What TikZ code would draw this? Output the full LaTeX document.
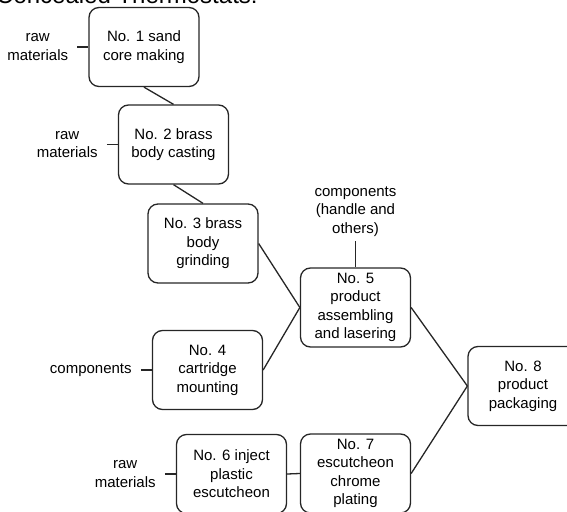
\documentclass[tikz,border=0pt]{standalone}
\usepackage{fontspec}
\setmainfont{Liberation Sans}
\usepackage{tikz}
\usetikzlibrary{positioning}

\tikzset{
	stage/.style={draw=black!85, line width=1.3pt, rounded corners=10pt, align=center,
		minimum width=110pt, minimum height=79pt, inner sep=2pt,
		font=\fontsize{15}{18.5}\selectfont},
	input/.style={align=center, inner xsep=9pt, inner ysep=5pt,
		font=\fontsize{15}{18.5}\selectfont},
	link/.style={draw=black!85, line width=1.3pt}
}

\begin{document}
\begin{tikzpicture}[x=1pt, y=-1pt]
\useasboundingbox (0,0) rectangle (567,511);
\clip (0,0) rectangle (567,511);

% title, cut off at the top
\node (title) [anchor=base west, inner sep=0pt, font=\fontsize{24}{28}\selectfont] at (-4,4) {Concealed Thermostats:};

% stages
\node (s1) [stage] at (144,47)    {No. 1 sand\\core making};
\node (s2) [stage] at (173.5,144.5) {No. 2 brass\\body casting};
\node (s3) [stage] at (203,243.5) {No. 3 brass\\body\\grinding};
\node (s4) [stage] at (207.5,370) {No. 4\\cartridge\\mounting};
\node (s5) [stage] at (355.5,307.5) {No. 5\\product\\assembling\\and lasering};
\node (s6) [stage] at (231.5,474) {No. 6 inject\\plastic\\escutcheon};
\node (s7) [stage] at (355.5,473.5) {No. 7\\escutcheon\\chrome\\plating};
\node (s8) [stage] at (523,386)   {No. 8\\product\\packaging};

% inputs
\node (raw1) [input, left=0pt of s1.west, anchor=east, xshift=-11pt] {raw\\materials};
\node (raw2) [input, left=0pt of s2.west, anchor=east, xshift=-11pt] {raw\\materials};
\node (comp4) [input, left=0pt of s4.west, anchor=east, xshift=-11pt] {components};
\node (raw6) [input, left=0pt of s6.west, anchor=east, xshift=-11pt] {raw\\materials};
\node (comp5) [input, above=0pt of s5.north, anchor=south, yshift=26pt] {components\\(handle and\\others)};

\path[link]
(raw1) edge (s1)
(raw2) edge (s2)
(comp4) edge (s4)
(raw6) edge (s6)
(comp5) edge (s5)
(s1.south) edge (s2.north)
(s2.south) edge (s3.north)
(s3.east) edge (s5.west)
(s4.east) edge (s5.west)
(s6.east) edge (s7.west)
(s5.east) edge (s8.west)
(s7.east) edge (s8.west)
;
\end{tikzpicture}
\end{document}
